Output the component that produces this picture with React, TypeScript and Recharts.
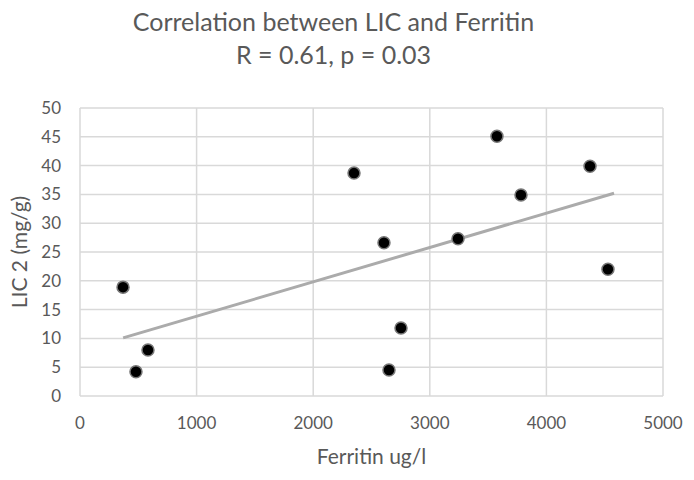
import React from 'react';
import {
  ScatterChart, Scatter, XAxis, YAxis, CartesianGrid, Label
} from 'recharts';

// Ferritin (ug/l) vs LIC 2 (mg/g)
const ferritin = [369, 480, 583, 2350, 2607, 2650, 2753, 3242, 3576, 3782, 4374, 4528];
const lic = [18.9, 4.2, 8.0, 38.7, 26.6, 4.5, 11.8, 27.3, 45.1, 34.9, 39.9, 22.0];

// linear trendline end points as drawn
const trendX = [370, 4580];
const trendY = [10.1, 35.2];

const xTicks = [0, 1000, 2000, 3000, 4000, 5000];
const yTicks = [0, 5, 10, 15, 20, 25, 30, 35, 40, 45, 50];

const points = ferritin.map((x, i) => ({ x, y: lic[i] }));
const trend = trendX.map((x, i) => ({ x, y: trendY[i] }));

const FONT = 'Lato, "Open Sans", sans-serif';
const TEXT = '#595959';

const Dot = (props: any) => {
  const { cx, cy } = props;
  return <circle cx={cx} cy={cy} r={6} fill="#000" stroke="#777" strokeWidth={1.5} />;
};

const Nothing = () => null;

export default function App() {
  return (
    <div style={{ position: 'absolute', left: 0, top: 0, width: 694, height: 480, background: '#fff', fontFamily: FONT }}>
      <div style={{ position: 'absolute', left: 0, width: 667, top: 5, textAlign: 'center', color: TEXT, fontSize: 25, lineHeight: '33px' }}>
        <div>Correlation between LIC and Ferritin</div>
        <div>R = 0.61, p = 0.03</div>
      </div>
      <ScatterChart width={694} height={480} margin={{ top: 108, right: 31, bottom: 0, left: 0 }}>
        <CartesianGrid stroke="#d9d9d9" strokeWidth={1.5} />
        <XAxis
          type="number"
          dataKey="x"
          domain={[0, 5000]}
          ticks={xTicks}
          axisLine={false}
          tickLine={false}
          tick={{ fill: TEXT, fontSize: 17, fontFamily: FONT }}
          tickMargin={15}
          height={84}
        >
          <Label value="Ferritin ug/l" position="insideTop" offset={53} fill={TEXT} fontSize={21} fontFamily={FONT} />
        </XAxis>
        <YAxis
          type="number"
          dataKey="y"
          domain={[0, 50]}
          ticks={yTicks}
          axisLine={false}
          tickLine={false}
          tick={{ fill: TEXT, fontSize: 17, fontFamily: FONT }}
          tickMargin={13}
          width={80}
          interval={0}
        >
          <Label value="LIC 2 (mg/g)" angle={-90} position="insideLeft" offset={20} fill={TEXT} fontSize={21} fontFamily={FONT} style={{ textAnchor: 'middle' }} />
        </YAxis>
        <Scatter
          data={trend}
          line={{ stroke: '#ababab', strokeWidth: 3 }}
          shape={<Nothing />}
          isAnimationActive={false}
        />
        <Scatter data={points} shape={<Dot />} isAnimationActive={false} />
      </ScatterChart>
    </div>
  );
}
